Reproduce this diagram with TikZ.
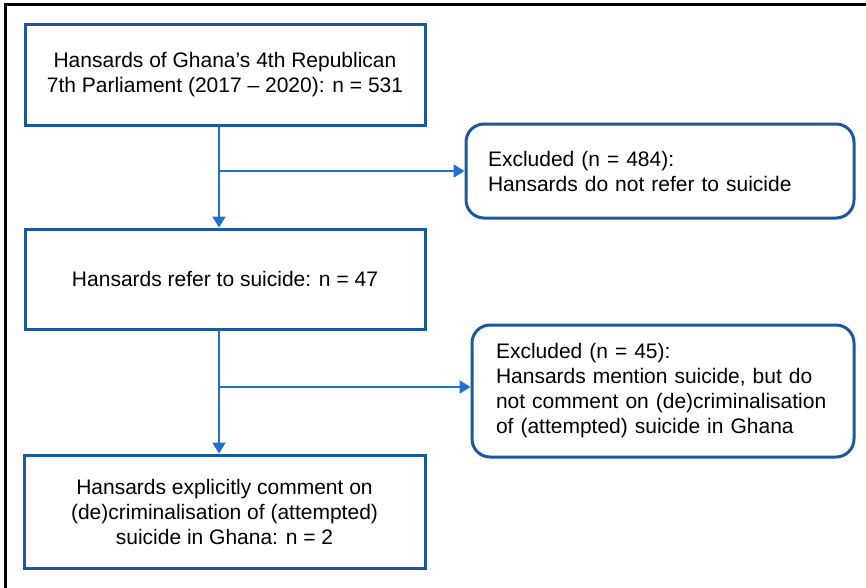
\documentclass[tikz,border=0pt]{standalone}
\usepackage{fontspec}
\setmainfont{Liberation Sans}
\usetikzlibrary{arrows.meta}
\definecolor{boxblue}{RGB}{28,88,160}
\definecolor{arrblue}{RGB}{32,112,205}
\tikzset{
  mainbox/.style={draw=boxblue, line width=3pt, rectangle, align=center, inner sep=0pt,
    font=\fontsize{21}{25}\selectfont},
  exbox/.style={draw=boxblue, line width=3pt, rectangle, rounded corners=18pt, align=left,
    inner ysep=0pt, font=\fontsize{21}{25}\selectfont},
  arr/.style={draw=arrblue, line width=2pt, -{Triangle[width=13pt,length=11pt]}},
}
\begin{document}
\begin{tikzpicture}[x=1pt,y=-1pt]
\useasboundingbox (0,0) rectangle (866,587);
\draw[line width=2.5pt, black] (5.5,600) -- (5.5,4.5) -- (880,4.5);

\node[mainbox, minimum width=400pt, minimum height=101pt] (top) at (225,74.5)
  {Hansards of Ghana’s 4th Republican\\7th Parliament (2017 – 2020): n = 531};
\node[mainbox, minimum width=400pt, minimum height=100pt] (mid) at (225,279)
  {Hansards refer to suicide: n = 47};
\node[mainbox, minimum width=401pt, minimum height=113pt] (bot) at (224.5,511.5)
  {Hansards explicitly comment on\\(de)criminalisation of (attempted)\\suicide in Ghana: n = 2};

\node[exbox, minimum height=94pt, inner xsep=22pt, text width=344pt] (ex1) at (660,171)
  {Excluded (n = 484):\\Hansards do not refer to suicide};
\node[exbox, minimum height=132pt, inner xsep=24pt, text width=334pt] (ex2) at (663,391)
  {Excluded (n = 45):\\Hansards mention suicide, but do\\not comment on (de)criminalisation\\of (attempted) suicide in Ghana};

\coordinate (c1) at (219,0);
\coordinate (b1) at (219,171);
\coordinate (b2) at (219,387);
\draw[arr] (top.south -| c1) -- (mid.north -| c1);
\draw[arr] (b1) -- (b1 -| ex1.west);
\draw[arr] (mid.south -| c1) -- (bot.north -| c1);
\draw[arr] (b2) -- (b2 -| ex2.west);
\end{tikzpicture}
\end{document}
